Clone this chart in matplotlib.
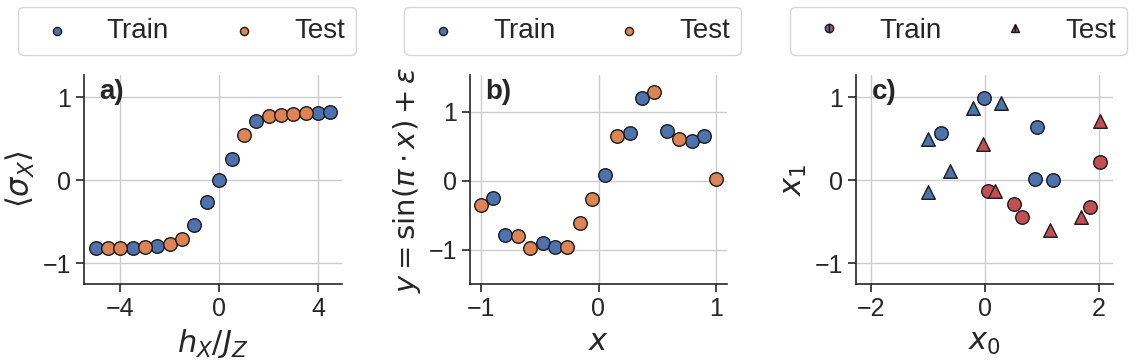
import matplotlib.pyplot as plt
import numpy as np
import seaborn as sns
from matplotlib.lines import Line2D

sns.set_theme(style="whitegrid")
sns.set_style("whitegrid", {"xtick.bottom": True, "ytick.left": True})
plt.rcParams['font.family'] = ['Liberation Sans', 'DejaVu Sans']
plt.rcParams['mathtext.fontset'] = 'dejavusans'

blue = "#4C72B0"
orange = "#DD8452"
red = "#C44E52"

# a) magnetisation vs field
h_field = [-5.0, -4.5, -4.0, -3.5, -3.0, -2.5, -2.0, -1.5, -1.0, -0.5,
           0.0, 0.5, 1.0, 1.5, 2.0, 2.5, 3.0, 3.5, 4.0, 4.5]
sigma_x = [-0.82, -0.82, -0.82, -0.81, -0.80, -0.79, -0.77, -0.71, -0.54, -0.26,
           0.0, 0.26, 0.55, 0.71, 0.77, 0.79, 0.80, 0.81, 0.815, 0.82]
split_a = ["train", "test", "test", "train", "test", "train", "test", "test", "train", "train",
           "train", "train", "test", "train", "test", "test", "test", "test", "train", "train"]

# b) noisy sine
x_sine = [-1.0, -0.895, -0.789, -0.684, -0.579, -0.474, -0.368, -0.263, -0.158, -0.053,
          0.053, 0.158, 0.263, 0.368, 0.474, 0.579, 0.684, 0.789, 0.895, 1.0]
y_sine = [-0.36, -0.25, -0.79, -0.81, -0.975, -0.91, -0.97, -0.97, -0.61, -0.27,
          0.08, 0.64, 0.69, 1.19, 1.29, 0.72, 0.60, 0.58, 0.64, 0.02]
split_b = ["test", "train", "train", "test", "test", "train", "train", "test", "test", "test",
           "train", "test", "train", "train", "test", "train", "test", "train", "train", "test"]

# c) two-class classification
train0_x = [-0.76, -0.02, 0.91, 0.88, 1.19]
train0_y = [0.57, 0.99, 0.64, 0.02, 0.0]
test0_x = [-0.99, -0.61, -0.99, -0.20, 0.29]
test0_y = [0.50, 0.11, -0.14, 0.87, 0.93]
train1_x = [0.06, 0.51, 0.65, 1.85, 2.02]
train1_y = [-0.13, -0.28, -0.44, -0.32, 0.22]
test1_x = [-0.04, 0.18, 1.14, 1.68, 2.03]
test1_y = [0.44, -0.13, -0.60, -0.44, 0.72]

fig = plt.figure(figsize=(11.36, 3.61), dpi=100)
ax_a = fig.add_axes([84/1136, 1-284/361, 258/1136, 209/361])
ax_b = fig.add_axes([470/1136, 1-284/361, 257/1136, 209/361])
ax_c = fig.add_axes([856/1136, 1-284/361, 257/1136, 209/361])

ms = 95
ek = dict(edgecolor="#1a1a1a", linewidth=1.0, zorder=3)


def split_scatter(ax, xs, ys, split):
    xs = np.array(xs)
    ys = np.array(ys)
    split = np.array(split)
    tr = split == "train"
    ax.scatter(xs[tr], ys[tr], s=ms, color=blue, label="Train", **ek)
    ax.scatter(xs[~tr], ys[~tr], s=ms, color=orange, label="Test", **ek)


split_scatter(ax_a, h_field, sigma_x, split_a)
split_scatter(ax_b, x_sine, y_sine, split_b)

ax_c.scatter(train0_x, train0_y, s=ms, color=blue, marker="o", **ek)
ax_c.scatter(test0_x, test0_y, s=ms, color=blue, marker="^", **ek)
ax_c.scatter(train1_x, train1_y, s=ms, color=red, marker="o", **ek)
ax_c.scatter(test1_x, test1_y, s=ms, color=red, marker="^", **ek)

ax_a.set_xlim(-5.475, 4.975)
ax_a.set_ylim(-1.25, 1.27)
ax_a.set_xticks([-4, 0, 4])
ax_b.set_xlim(-1.09, 1.09)
ax_b.set_ylim(-1.5, 1.53)
ax_b.set_xticks([-1, 0, 1])
ax_c.set_xlim(-2.26, 2.25)
ax_c.set_ylim(-1.25, 1.27)
ax_c.set_xticks([-2, 0, 2])

ax_a.set_xlabel(r"$h_X/J_Z$", fontsize=22)
ax_a.set_ylabel(r"$\langle\sigma_X\rangle$", fontsize=22)
ax_b.set_xlabel(r"$x$", fontsize=22)
ax_b.set_ylabel(r"$y = \sin(\pi \cdot x) + \varepsilon$", fontsize=21)
ax_c.set_xlabel(r"$x_0$", fontsize=22)
ax_c.set_ylabel(r"$x_1$", fontsize=22)

leg_kw = dict(loc="lower left", bbox_to_anchor=(-0.256, 1.096, 1.31, 0.2), mode="expand",
              ncol=2, borderaxespad=0, fontsize=20, frameon=True, handletextpad=0.8)

for ax, tag in zip([ax_a, ax_b, ax_c], ["a)", "b)", "c)"]):
    ax.set_yticks([-1, 0, 1])
    ax.tick_params(labelsize=18, length=6, width=1.2, color="#262626")
    for side in ["top", "right"]:
        ax.spines[side].set_visible(False)
    for side in ["left", "bottom"]:
        ax.spines[side].set_color("#262626")
        ax.spines[side].set_linewidth(1.2)
    ax.text(0.06, 0.98, tag, transform=ax.transAxes, fontsize=20, fontweight="bold",
            va="top", ha="left")

ax_a.legend(markerscale=0.6, **leg_kw)
ax_b.legend(markerscale=0.6, **leg_kw)

h_train = Line2D([], [], marker="o", linestyle="none", markersize=6, fillstyle="left",
                 markerfacecolor=blue, markerfacecoloralt=red, markeredgecolor="#1a1a1a")
h_test = Line2D([], [], marker="^", linestyle="none", markersize=6, fillstyle="left",
                markerfacecolor=blue, markerfacecoloralt=red, markeredgecolor="#1a1a1a")
ax_c.legend([h_train, h_test], ["Train", "Test"], **leg_kw)

fig.savefig("out.png", dpi=100)
